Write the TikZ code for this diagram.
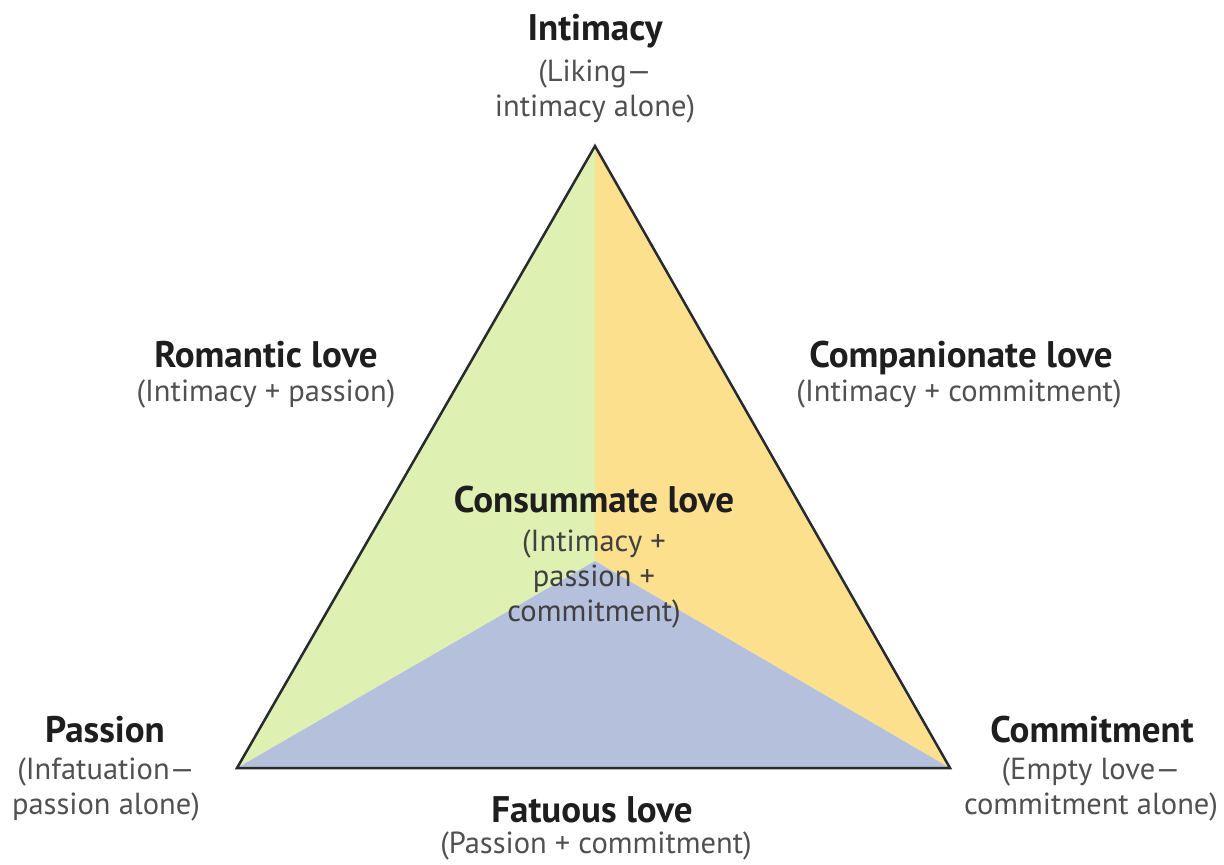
\documentclass[tikz,border=0pt]{standalone}
\usepackage{fontspec}
\setmainfont{PT Sans}
\definecolor{romantic}{RGB}{222,240,178}
\definecolor{companion}{RGB}{252,224,142}
\definecolor{fatuous}{RGB}{180,192,220}
\definecolor{edgeline}{RGB}{40,42,48}
\definecolor{titletext}{RGB}{30,30,30}
\definecolor{subtext}{RGB}{80,80,80}
\tikzset{
  title/.style={font=\fontsize{37}{42}\selectfont\bfseries, text=titletext, inner sep=0pt, anchor=base},
  sub/.style={font=\fontsize{30.5}{35}\selectfont, text=subtext, align=center, inner sep=0pt, anchor=north},
}

\begin{document}
\begin{tikzpicture}[x=1pt,y=-1pt]
                \useasboundingbox (0,0) rectangle (1224,865);
                % corners and centre of the triangle
                \coordinate (I) at (595,146);
                \coordinate (P) at (237,768);
                \coordinate (C) at (950,768);
                \coordinate (M) at (595,561);
                \fill[romantic] (I) -- (P) -- (M) -- cycle;
                \fill[companion] (I) -- (M) -- (C) -- cycle;
                \fill[fatuous] (P) -- (M) -- (C) -- cycle;
                \draw[edgeline, line width=2.5pt] (I) -- (P) -- (C) -- cycle;
                % labels
                \node[title] (intimacy) at (595,40) {Intimacy};
                \node[sub] (intimacy-sub) at (595,60) {(Liking—\\intimacy alone)};
                \node[title] (romantic) at (266,367) {Romantic love};
                \node[sub] (romantic-sub) at (266,380) {(Intimacy + passion)};
                \node[title] (companion) at (961,367) {Companionate love};
                \node[sub] (companion-sub) at (959,380) {(Intimacy + commitment)};
                \node[title] (consummate) at (594,512) {Consummate love};
                \node[sub, text=black!75] (consummate-sub) at (594,530) {(Intimacy +\\passion +\\commitment)};
                \node[title] (passion) at (105,742) {Passion};
                \node[sub] (passion-sub) at (106,758) {(Infatuation—\\passion alone)};
                \node[title] (commitment) at (1092,742) {Commitment};
                \node[sub] (commitment-sub) at (1091,758) {(Empty love—\\commitment alone)};
                \node[title] (fatuous) at (592,822) {Fatuous love};
                \node[sub] (fatuous-sub) at (596,832) {(Passion + commitment)};
\end{tikzpicture}
\end{document}
